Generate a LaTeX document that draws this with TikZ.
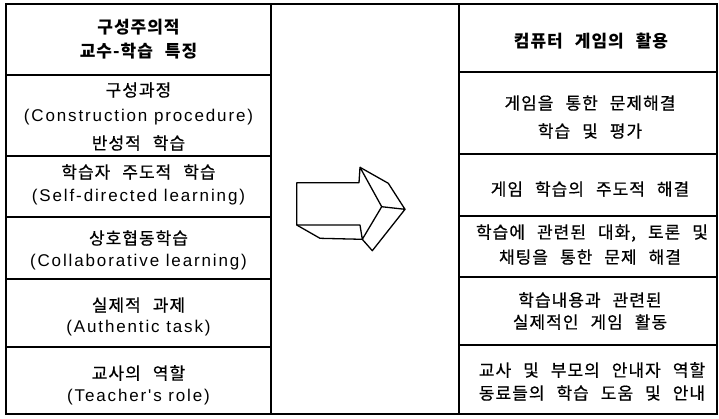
\documentclass[tikz,border=0pt]{standalone}
\usepackage{fontspec}
\newfontfamily\kr[LetterSpace=6,FakeBold=0.6]{Noto Sans CJK KR}
\newfontfamily\krb[LetterSpace=6]{Noto Sans CJK KR}
\newfontfamily\lat[LetterSpace=11]{Liberation Sans}
\newcommand\krfont{\kr\fontsize{17}{18}\selectfont\spaceskip=12pt\relax}
\newcommand\krbfont{\krb\bfseries\fontsize{17}{18}\selectfont\spaceskip=12pt\relax}
\newcommand\latfont{\lat\fontsize{17}{18}\selectfont}
\tikzset{
  krtext/.style={font=\krfont, inner sep=0pt, anchor=center},
  krhead/.style={font=\krbfont, inner sep=0pt, anchor=center},
  lattext/.style={font=\latfont, inner sep=0pt, anchor=center},
  frame/.style={line width=2pt},
  rule/.style={line width=1.1pt},
  arrowline/.style={line width=1.3pt, line join=round}
}
\begin{document}
\begin{tikzpicture}[x=1pt,y=-1pt]
\useasboundingbox (0,0) rectangle (719,418);
% frame and columns
\draw[frame] (6,4) rectangle (717,414);
\draw[rule] (271,4) -- (271,414);
\draw[rule] (459,4) -- (459,414);
\foreach \yy in {75,156,217,279,347} \draw[rule] (6,\yy) -- (271,\yy);
\foreach \yy in {72,154,216,277,345} \draw[rule] (459,\yy) -- (717,\yy);
% left column texts
\node[krhead] (l1a) at (138.5,27) {구성주의적};
\node[krhead] (l1b) at (138.5,51) {교수-학습 특징};
\node[krtext] (l2a) at (138.5,90) {구성과정};
\node[lattext] (l2b) at (138.5,117) {(Construction procedure)};
\node[krtext] (l2c) at (138.5,143) {반성적 학습};
\node[krtext] (l3a) at (138.5,172) {학습자 주도적 학습};
\node[lattext] (l3b) at (138.5,197) {(Self-directed learning)};
\node[krtext] (l4a) at (138.5,238) {상호협동학습};
\node[lattext] (l4b) at (138.5,262) {(Collaborative learning)};
\node[krtext] (l5a) at (138.5,305) {실제적 과제};
\node[lattext] (l5b) at (138.5,328) {(Authentic task)};
\node[krtext] (l6a) at (138.5,373) {교사의 역할};
\node[lattext] (l6b) at (138.5,397) {(Teacher's role)};
% right column texts
\node[krhead] (r1) at (591,41) {컴퓨터 게임의 활용};
\node[krtext] (r2a) at (590,103) {게임을 통한 문제해결};
\node[krtext] (r2b) at (590,131) {학습 및 평가};
\node[krtext] (r3) at (590,189) {게임 학습의 주도적 해결};
\node[krtext] (r4a) at (592,233) {학습에 관련된 대화, 토론 및};
\node[krtext] (r4b) at (590,257) {채팅을 통한 문제 해결};
\node[krtext] (r5a) at (590,300) {학습내용과 관련된};
\node[krtext] (r5b) at (590,322) {실제적인 게임 활동};
\node[krtext] (r6a) at (592,370) {교사 및 부모의 안내자 역할};
\node[krtext] (r6b) at (592,393) {동료들의 학습 도움 및 안내};
% 3D arrow
\coordinate (a1) at (296.7,182.7);
\coordinate (a2) at (359,182.7);
\coordinate (a3) at (360,167.3);
\coordinate (a4) at (381.7,206.7);
\coordinate (a5) at (362.3,239.3);
\coordinate (a6) at (360,225);
\coordinate (a7) at (296.7,225);
\coordinate (b3) at (388.3,183.3);
\coordinate (b4) at (405,209.3);
\coordinate (b5) at (372.3,250.7);
\coordinate (b7) at (320,238.3);
\draw[arrowline] (a1) -- (a2) -- (a3) -- (a4) -- (a5) -- (a6) -- (a7) -- cycle;
\draw[arrowline] (a3) -- (b3) -- (b4) -- (a4);
\draw[arrowline] (b4) -- (b5) -- (a5);
\draw[arrowline] (a7) -- (b7) -- (a5);
\end{tikzpicture}
\end{document}
